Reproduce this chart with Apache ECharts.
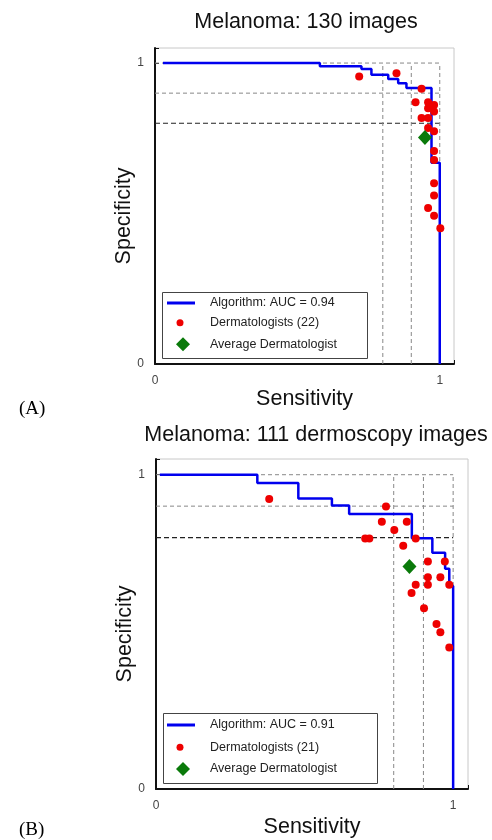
<!DOCTYPE html>
<html>
<head>
<meta charset="utf-8">
<script src="https://cdn.jsdelivr.net/npm/echarts@6/dist/echarts.min.js"></script>
<style>
  html, body { margin: 0; background: #fff; }
  #chart { width: 492px; height: 840px; }
</style>
</head>
<body>
<div id="chart"></div>
<script>
  // ---- panel A: 130 images ----
  var rocAx = [0.028, 0.579, 0.725, 0.760, 0.819, 0.854, 0.883, 0.971, 0.971, 1.0];
  var rocAy = [1.0, 0.989, 0.980, 0.961, 0.947, 0.933, 0.917, 0.898, 0.669, 0.0];
  var dermAx = [0.717, 0.848, 0.936, 0.915, 0.959, 0.980, 0.959, 0.980, 0.936, 0.959,
                0.959, 0.980, 0.980, 0.980, 0.980, 0.980, 0.959, 0.980, 1.002];
  var dermAy = [0.955, 0.966, 0.915, 0.870, 0.870, 0.861, 0.850, 0.839, 0.817, 0.817,
                0.784, 0.773, 0.708, 0.678, 0.601, 0.560, 0.518, 0.493, 0.451];
  var avgA = [0.948, 0.753];

  // ---- panel B: 111 dermoscopy images ----
  var rocBx = [0.013, 0.341, 0.479, 0.592, 0.650, 0.861, 0.930, 0.973, 0.987, 1.0];
  var rocBy = [1.0, 0.974, 0.924, 0.902, 0.875, 0.798, 0.752, 0.701, 0.646, 0.0];
  var dermBx = [0.381, 0.774, 0.760, 0.844, 0.802, 0.704, 0.718, 0.874, 0.832, 0.915,
                0.972, 0.915, 0.957, 0.915, 0.874, 0.987, 0.860, 0.902, 0.944, 0.957, 0.987];
  var dermBy = [0.923, 0.899, 0.850, 0.850, 0.824, 0.797, 0.797, 0.797, 0.774, 0.724,
                0.724, 0.674, 0.674, 0.650, 0.650, 0.650, 0.624, 0.575, 0.525, 0.499, 0.450];
  var avgB = [0.853, 0.708];

  // reference operating levels (dashed guides)
  var guideLevels = [0.8, 0.9, 1.0];

  var font = "'Liberation Sans', Arial, sans-serif";
  var serif = "'Liberation Serif', 'Times New Roman', serif";

  function zip(xs, ys) {
    return xs.map(function (x, i) { return [x, ys[i]]; });
  }

  function axes(idx, xGap) {
    var common = {
      gridIndex: idx,
      type: 'value',
      min: 0,
      max: 1.05,
      interval: 1,
      splitLine: { show: false },
      axisLine: { lineStyle: { color: '#111', width: 2 } },
      axisTick: { inside: true, length: 4, lineStyle: { color: '#111' } },
      axisLabel: {
        color: '#444', fontSize: 12, fontFamily: font, margin: 11,
        formatter: function (v) { return (v === 0 || v === 1) ? String(v) : ''; }
      },
      nameLocation: 'middle'
    };
    return {
      x: Object.assign({}, common, {
        name: 'Sensitivity', nameGap: xGap,
        nameTextStyle: { color: '#111', fontSize: 21.5, fontFamily: font }
      }),
      y: Object.assign({}, common, {
        name: 'Specificity', nameGap: 20, nameMoveOverlap: false,
        nameTextStyle: { color: '#111', fontSize: 21.5, fontFamily: font, padding: [0, 20, 0, 0] }
      })
    };
  }

  var aAxes = axes(0, 23), bAxes = axes(1, 27);

  function guideSeries(idx) {
    var out = [];
    guideLevels.forEach(function (v) {
      out.push({
        type: 'line', xAxisIndex: idx, yAxisIndex: idx, silent: true, symbol: 'none',
        data: [[0, v], [1, v]], z: 1,
        lineStyle: v === 0.8 ? { color: '#222', width: 1.2, type: [5, 3] }
                             : { color: '#888', width: 1, type: [4, 3] }
      });
      out.push({
        type: 'line', xAxisIndex: idx, yAxisIndex: idx, silent: true, symbol: 'none',
        data: [[v, 0], [v, 1]], z: 1,
        lineStyle: { color: '#888', width: 1, type: [4, 3] }
      });
    });
    return out;
  }

  function panelSeries(idx, auc, rx, ry, dx, dy, avg, n) {
    return [
      {
        name: 'Algorithm: AUC = ' + auc, type: 'line', xAxisIndex: idx, yAxisIndex: idx,
        step: 'end', symbol: 'none', data: zip(rx, ry), z: 3,
        lineStyle: { color: '#0000ee', width: 2.5 }, itemStyle: { color: '#0000ee' }
      },
      {
        name: 'Dermatologists (' + n + ')', type: 'scatter', xAxisIndex: idx, yAxisIndex: idx,
        symbol: 'circle', symbolSize: 8, data: zip(dx, dy), z: 4,
        itemStyle: { color: '#ee0000', opacity: 1 }
      },
      {
        name: 'Average Dermatologist', type: 'scatter', xAxisIndex: idx, yAxisIndex: idx,
        symbol: 'diamond', symbolSize: [14, 15], data: [avg], z: 5,
        itemStyle: { color: '#0a7a0a', opacity: 1 }
      }
    ];
  }

  // one legend per entry so each icon keeps its own size
  function legendItem(name, icon, w, h, left, top, textPad) {
    return {
      data: [{ name: name, icon: icon }],
      left: left, top: top, padding: 0, selectedMode: false,
      itemWidth: w, itemHeight: h, z: 6,
      textStyle: { fontSize: 12.5, fontFamily: font, color: '#222', lineHeight: 14,
                   padding: [0, 0, 0, textPad] }
    };
  }

  function legendBlock(auc, n, rows) {
    return [
      legendItem('Algorithm: AUC = ' + auc, 'rect', 28, 3, 167, rows[0] - 7, 10),
      legendItem('Dermatologists (' + n + ')', 'circle', 7, 7, 176.5, rows[1] - 7, 21.5),
      legendItem('Average Dermatologist', 'diamond', 14, 14, 176, rows[2] - 7, 15)
    ];
  }

  var chart = echarts.init(document.getElementById('chart'), null, { renderer: 'canvas' });
  chart.setOption({
    backgroundColor: '#fff',
    animation: false,
    title: [
      { text: 'Melanoma: 130 images', left: 301, top: 6, textAlign: 'center',
        textStyle: { fontSize: 21.5, fontWeight: 'normal', color: '#111', fontFamily: font } },
      { text: 'Melanoma: 111 dermoscopy images', left: 311, top: 419, textAlign: 'center',
        textStyle: { fontSize: 21.5, fontWeight: 'normal', color: '#111', fontFamily: font } },
      { text: '(A)', left: 14, top: 395,
        textStyle: { fontSize: 19, fontWeight: 'normal', color: '#000', fontFamily: serif } },
      { text: '(B)', left: 14, top: 816,
        textStyle: { fontSize: 19, fontWeight: 'normal', color: '#000', fontFamily: serif } }
    ],
    grid: [
      { left: 155, top: 48, width: 299, height: 316, show: true, borderColor: '#c8c8c8', borderWidth: 1 },
      { left: 156, top: 459, width: 312, height: 330, show: true, borderColor: '#c8c8c8', borderWidth: 1 }
    ],
    xAxis: [aAxes.x, bAxes.x],
    yAxis: [aAxes.y, bAxes.y],
    graphic: [
      { type: 'rect', z: 2, shape: { x: 162.5, y: 292.5, width: 205, height: 66 },
        style: { fill: '#fff', stroke: '#444', lineWidth: 1 } },
      { type: 'rect', z: 2, shape: { x: 163.5, y: 713.5, width: 214, height: 70 },
        style: { fill: '#fff', stroke: '#444', lineWidth: 1 } }
    ],
    legend: [].concat(
      legendBlock('0.94', 22, [303, 322.7, 344.3]),
      legendBlock('0.91', 21, [725, 747.3, 769])
    ),
    series: [].concat(
      guideSeries(0),
      guideSeries(1),
      panelSeries(0, '0.94', rocAx, rocAy, dermAx, dermAy, avgA, 22),
      panelSeries(1, '0.91', rocBx, rocBy, dermBx, dermBy, avgB, 21)
    )
  });
</script>
</body>
</html>
